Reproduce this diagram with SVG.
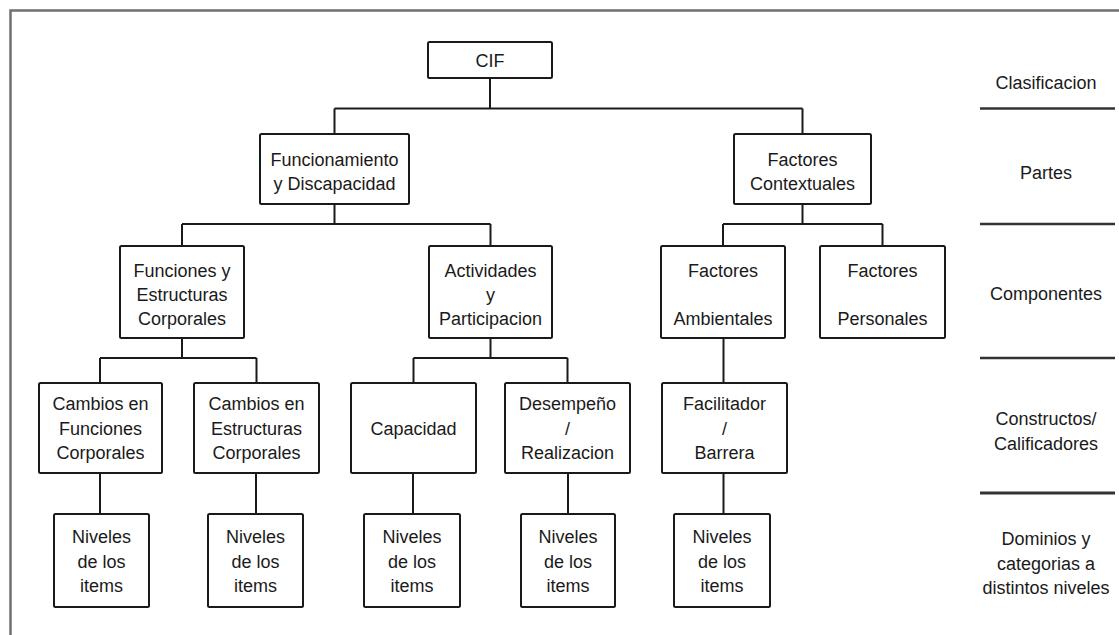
<svg xmlns="http://www.w3.org/2000/svg" width="1119" height="635" viewBox="0 0 1119 635">
<style>
.bg{fill:#ffffff}
.frame{fill:none;stroke:#707070;stroke-width:2.5}
.box{fill:#ffffff;stroke:#1a1a1a;stroke-width:2}
.ln{fill:none;stroke:#1a1a1a;stroke-width:2}
.sep{fill:none;stroke:#333333;stroke-width:2.5}
text{font-family:"Liberation Sans",Arial,sans-serif;font-size:18px;fill:#1a1a1a;text-anchor:middle}
</style>
<rect class="bg" x="0" y="0" width="1119" height="635"/>
<path class="frame" d="M10.5 635 V10.5 H1119"/>

<g id="connectors">
<path class="ln" d="M490 78 V108.5 M334.5 108.5 H802.5 M334.5 108.5 V134 M802.5 108.5 V134"/>
<path class="ln" d="M334.5 204 V224 M182 224 H490.5 M182 224 V246 M490.5 224 V246"/>
<path class="ln" d="M802.5 204 V224 M723 224 H882.5 M723 224 V246 M882.5 224 V246"/>
<path class="ln" d="M182 338 V358 M100 358 H256.5 M100 358 V383 M256.5 358 V383"/>
<path class="ln" d="M490.5 338 V358 M413.5 358 H567.5 M413.5 358 V383 M567.5 358 V383"/>
<path class="ln" d="M723.5 338 V383"/>
<path class="ln" d="M100 473 V514 M256 473 V514 M413 473 V514 M568 473 V514 M723.5 473 V514"/>
</g>

<g id="n-cif"><rect class="box" x="428" y="42" width="124" height="36" rx="1.5"/><text x="490" y="66.5">CIF</text></g>

<g id="n-funcionamiento"><rect class="box" x="260" y="134" width="149" height="70" rx="1.5"/><text x="334.5" y="165.5">Funcionamiento</text><text x="334.5" y="189.5">y Discapacidad</text></g>
<g id="n-contextuales"><rect class="box" x="734" y="134" width="137" height="70" rx="1.5"/><text x="802.5" y="165.5">Factores</text><text x="802.5" y="189.5">Contextuales</text></g>

<g id="n-funciones"><rect class="box" x="120" y="246" width="124" height="92" rx="1.5"/><text x="182" y="276.5">Funciones y</text><text x="182" y="300.5">Estructuras</text><text x="182" y="324.5">Corporales</text></g>
<g id="n-actividades"><rect class="box" x="429" y="246" width="123" height="92" rx="1.5"/><text x="490.5" y="276.5">Actividades</text><text x="490.5" y="300.5">y</text><text x="490.5" y="324.5">Participacion</text></g>
<g id="n-ambientales"><rect class="box" x="661" y="246" width="124" height="92" rx="1.5"/><text x="723" y="276.5">Factores</text><text x="723" y="324.5">Ambientales</text></g>
<g id="n-personales"><rect class="box" x="820" y="246" width="125" height="92" rx="1.5"/><text x="882.5" y="276.5">Factores</text><text x="882.5" y="324.5">Personales</text></g>

<g id="n-cambios-funciones"><rect class="box" x="39" y="383" width="123" height="90" rx="1.5"/><text x="100.5" y="409.5">Cambios en</text><text x="100.5" y="434.5">Funciones</text><text x="100.5" y="458.5">Corporales</text></g>
<g id="n-cambios-estructuras"><rect class="box" x="194" y="383" width="125" height="90" rx="1.5"/><text x="256.5" y="409.5">Cambios en</text><text x="256.5" y="434.5">Estructuras</text><text x="256.5" y="458.5">Corporales</text></g>
<g id="n-capacidad"><rect class="box" x="351" y="383" width="125" height="90" rx="1.5"/><text x="413.5" y="434.5">Capacidad</text></g>
<g id="n-desempeno"><rect class="box" x="505" y="383" width="125" height="90" rx="1.5"/><text x="567.5" y="409.5">Desempeño</text><text x="567.5" y="434.5">/</text><text x="567.5" y="458.5">Realizacion</text></g>
<g id="n-facilitador"><rect class="box" x="662" y="383" width="125" height="90" rx="1.5"/><text x="724.5" y="409.5">Facilitador</text><text x="724.5" y="434.5">/</text><text x="724.5" y="458.5">Barrera</text></g>

<g id="n-niveles-1"><rect class="box" x="54" y="514" width="95" height="93" rx="1.5"/><text x="101.5" y="542.5">Niveles</text><text x="101.5" y="567.5">de los</text><text x="101.5" y="591.5">items</text></g>
<g id="n-niveles-2"><rect class="box" x="208" y="514" width="95" height="93" rx="1.5"/><text x="255.5" y="542.5">Niveles</text><text x="255.5" y="567.5">de los</text><text x="255.5" y="591.5">items</text></g>
<g id="n-niveles-3"><rect class="box" x="364" y="514" width="96" height="93" rx="1.5"/><text x="412" y="542.5">Niveles</text><text x="412" y="567.5">de los</text><text x="412" y="591.5">items</text></g>
<g id="n-niveles-4"><rect class="box" x="521" y="514" width="94" height="93" rx="1.5"/><text x="568" y="542.5">Niveles</text><text x="568" y="567.5">de los</text><text x="568" y="591.5">items</text></g>
<g id="n-niveles-5"><rect class="box" x="674" y="514" width="96" height="93" rx="1.5"/><text x="722" y="542.5">Niveles</text><text x="722" y="567.5">de los</text><text x="722" y="591.5">items</text></g>

<g id="legend">
<text x="1046" y="88.5">Clasificacion</text>
<path class="sep" d="M980 108.5 H1115"/>
<text x="1046" y="178.5">Partes</text>
<path class="sep" d="M980 224 H1115"/>
<text x="1046" y="299.5">Componentes</text>
<path class="sep" d="M980 358 H1115"/>
<text x="1046" y="424.5">Constructos/</text>
<text x="1046" y="449.5">Calificadores</text>
<path class="sep" d="M980 493 H1115" style="stroke-width:3"/>
<text x="1046" y="544.5">Dominios y</text>
<text x="1046" y="569.5">categorias a</text>
<text x="1046" y="593.5">distintos niveles</text>
</g>
</svg>
